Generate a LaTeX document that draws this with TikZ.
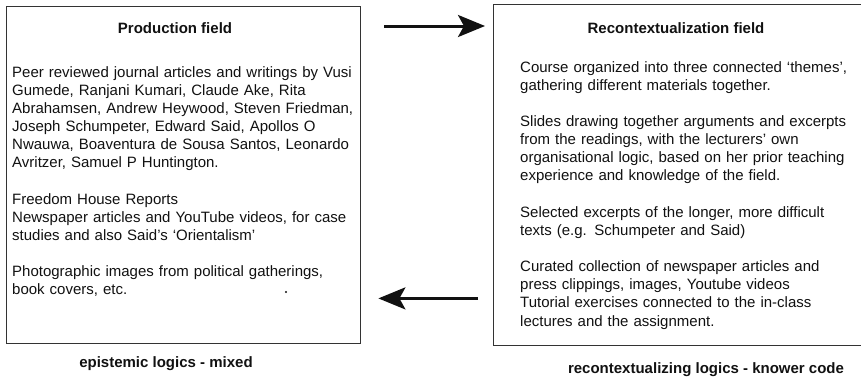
\documentclass[tikz,border=0pt]{standalone}
\usepackage{fontspec}
\setmainfont{Liberation Sans}
\usetikzlibrary{arrows.meta,calc}
\definecolor{ink}{HTML}{111111}
\definecolor{boxgray}{HTML}{333333}
\begin{document}
\begin{tikzpicture}[x=1pt,y=-1pt,
  fieldbox/.style={draw=boxgray, line width=1.4pt, inner sep=0pt, anchor=north west},
  bodytext/.style={anchor=base west, inner sep=0pt, text width=345pt, align=left,
    font=\fontsize{15}{18.15}\selectfont, text=ink},
  titletext/.style={anchor=base, inner sep=0pt, font=\fontsize{15}{18}\selectfont\bfseries, text=ink},
  bigarrow/.style={line width=3pt, draw=ink, -{Stealth[length=27pt,width=22pt,inset=6pt]}}
]
\useasboundingbox (0,0) rectangle (861,380);
\clip (0,0) rectangle (861,380);

% the two fields
\node[fieldbox, minimum width=354pt, minimum height=337pt] (prod) at (6,6) {};
\node[fieldbox, minimum width=400pt, minimum height=341pt] (recon) at (493,4) {};

% titles
\node[titletext] (prodtitle) at (175,33) {Production field};
\node[titletext] (recontitle) at (676,33) {Recontextualization field};

% contents of the production field
\node[bodytext] (prodbody) at (12,77) {Peer reviewed journal articles and writings by Vusi\\
Gumede, Ranjani Kumari, Claude Ake, Rita\\
Abrahamsen, Andrew Heywood, Steven Friedman,\\
Joseph Schumpeter, Edward Said, Apollos O\\
Nwauwa, Boaventura de Sousa Santos, Leonardo\\
Avritzer, Samuel P Huntington.\\[18.15pt]
Freedom House Reports\\
Newspaper articles and YouTube videos, for case\\
studies and also Said’s ‘Orientalism’\\[18.15pt]
Photographic images from political gatherings,\\
book covers, etc.};
\fill[ink] (286,292) circle (1.1pt);

% contents of the recontextualization field
\node[bodytext] (reconbody) at (520,72) {Course organized into three connected ‘themes’,\\
gathering different materials together.\\[18.15pt]
Slides drawing together arguments and excerpts\\
from the readings, with the lecturers’ own\\
organisational logic, based on her prior teaching\\
experience and knowledge of the field.\\[18.15pt]
Selected excerpts of the longer, more difficult\\
texts (e.g. Schumpeter and Said)\\[18.15pt]
Curated collection of newspaper articles and\\
press clippings, images, Youtube videos\\
Tutorial exercises connected to the in-class\\
lectures and the assignment.};

% arrows between the fields
\draw[bigarrow] ($(prod.north east)+(23,20)$) -- ($(recon.north west)+(-8,22)$);
\draw[bigarrow] ($(recon.south west)+(-15,-48)$) -- ($(prod.south east)+(17,-46)$);

% logics under each field
\node[titletext] (prodlogic) at (166,367) {epistemic logics - mixed};
\node[titletext] (reconlogic) at (706,373) {recontextualizing logics - knower code};
\end{tikzpicture}
\end{document}
